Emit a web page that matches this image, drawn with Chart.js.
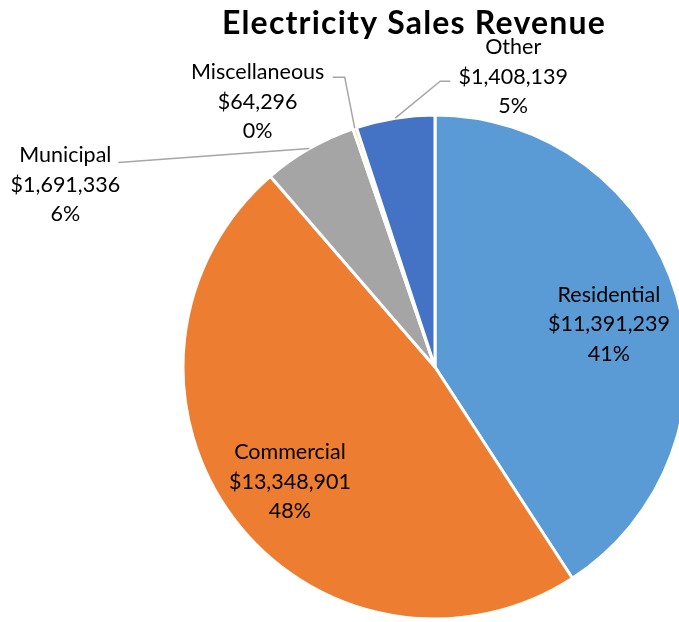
<!DOCTYPE html>
<html>
<head>
<meta charset="utf-8">
<script src="https://cdn.jsdelivr.net/npm/chart.js@4.4.0/dist/chart.umd.min.js"></script>
<style>
  html, body { margin: 0; padding: 0; background: #fff; overflow: hidden; }
  #wrap { width: 679px; height: 622px; overflow: hidden; position: relative; }
  #mycanvas { position: absolute; left: 0; top: 0; }
</style>
</head>
<body>
<div id="wrap"><canvas id="mycanvas" width="700" height="622"></canvas></div>
<script>
// data
var categories = ["Residential", "Commercial", "Municipal", "Miscellaneous", "Other"];
var revenue = [11391239, 13348901, 1691336, 64296, 1408139];
var percentLabels = ["41%", "48%", "6%", "0%", "5%"];
var sliceColors = ["#5B9BD5", "#ED7D31", "#A5A5A5", "#FFC000", "#4472C4"];

var titleText = "Electricity Sales Revenue";
var labelFont = "21.5px Lato, 'Open Sans', sans-serif";
var lineGap = 29.5;

// where each label goes: inside the slice, or outside with a leader line
// (outside offsets are from the rim point of the slice, text[1] = first line)
var labelPlace = [
	{ inside: true, k: 0.72, dy: 9 },
	{ inside: true, k: 0.72, dy: 6 },
	{ inside: false, line: [[0, 0], [-191, 14]], text: [-244, 7] },
	{ inside: false, line: [[0, 0], [-10, -51], [-22, -51]], text: [-97, -56] },
	{ inside: false, line: [[0, 0], [45, -37], [55, -37]], text: [118, -71] }
];

function money(v) {
	return "$" + v.toLocaleString("en-US");
}

var labelPlugin = {
	id: "labelPlugin",
	afterDraw: function(chart) {
		var ctx = chart.ctx;
		var meta = chart.getDatasetMeta(0);

		ctx.save();
		// title
		ctx.fillStyle = "#000";
		ctx.font = "bold 32px Lato, 'Open Sans', sans-serif";
		ctx.letterSpacing = "1.2px";
		ctx.textAlign = "center";
		ctx.textBaseline = "middle";
		ctx.fillText(titleText, 414, 24);
		ctx.letterSpacing = "0px";

		ctx.font = labelFont;
		for (var i = 0; i < meta.data.length; i++) {
			var arc = meta.data[i];
			var p = arc.getProps(["x", "y", "startAngle", "endAngle", "outerRadius"], true);
			var mid = (p.startAngle + p.endAngle) / 2;
			var place = labelPlace[i];
			var lines = [categories[i], money(revenue[i]), percentLabels[i]];
			var tx, ty;
			if (place.inside) {
				tx = p.x + Math.cos(mid) * p.outerRadius * place.k;
				ty = p.y + Math.sin(mid) * p.outerRadius * place.k + place.dy;
			} else {
				var ax = p.x + Math.cos(mid) * p.outerRadius;
				var ay = p.y + Math.sin(mid) * p.outerRadius;
				ctx.strokeStyle = "#A6A6A6";
				ctx.lineWidth = 1.5;
				ctx.beginPath();
				for (var j = 0; j < place.line.length; j++) {
					var lx = ax + place.line[j][0], ly = ay + place.line[j][1];
					if (j == 0) ctx.moveTo(lx, ly); else ctx.lineTo(lx, ly);
				}
				ctx.stroke();
				tx = ax + place.text[0];
				ty = ay + place.text[1] + lineGap;
			}
			ctx.fillStyle = "#000";
			for (var m = 0; m < lines.length; m++) {
				ctx.fillText(lines[m], tx, ty + (m - 1) * lineGap);
			}
		}
		ctx.restore();
	}
};

var chartdata = {
	labels: categories,
	datasets: [
		{
			label: "Revenue",
			data: revenue,
			backgroundColor: sliceColors,
			borderColor: "#FFFFFF",
			borderWidth: 3,
			hoverOffset: 0
		}
	]
};

var ctx = document.getElementById("mycanvas");
var PieGraph = new Chart(ctx, {
	type: "pie",
	data: chartdata,
	options: {
		responsive: false,
		animation: false,
		devicePixelRatio: 1,
		radius: 252,
		layout: { padding: { left: 183, right: 13, top: 115, bottom: 3 } },
		plugins: {
			legend: { display: false },
			tooltip: { enabled: false },
			title: { display: false }
		}
	},
	plugins: [labelPlugin]
});
</script>
</body>
</html>
